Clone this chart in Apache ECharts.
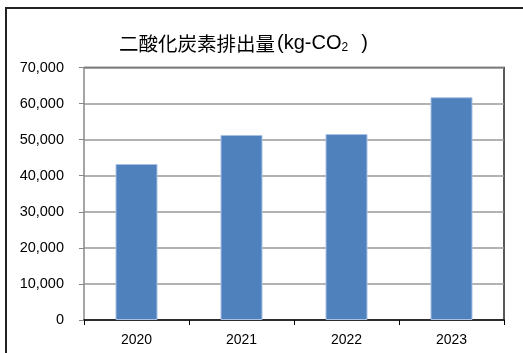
<!DOCTYPE html>
<html>
<head>
<meta charset="utf-8">
<script src="https://cdn.jsdelivr.net/npm/echarts@6/dist/echarts.min.js"></script>
<style>
  html, body { margin: 0; padding: 0; background: #fff; }
  #chart { width: 523px; height: 353px; }
</style>
</head>
<body>
<div id="chart"></div>
<script>
// 年度ごとの排出量
const years = ['2020', '2021', '2022', '2023'];
const emissions = [43250, 51300, 51550, 61750];
const yTicks = { min: 0, max: 70000, interval: 10000 };

const chart = echarts.init(document.getElementById('chart'));

chart.setOption({
  animation: false,
  title: {
    text: '二酸化炭素排出量{t|(kg-CO}{s|2}{t|  )}',
    left: 114,
    top: 28,
    textStyle: {
      fontFamily: 'Noto Sans CJK JP',
      fontSize: 19.5,
      fontWeight: 'normal',
      color: '#000',
      rich: {
        t: { fontFamily: 'Liberation Sans', fontSize: 20, color: '#000', padding: [0, 0, 0, 2] },
        s: { fontFamily: 'Liberation Sans', fontSize: 12, color: '#000', verticalAlign: 'bottom', padding: [9, 0, 0, 0] }
      }
    }
  },
  graphic: [{
    type: 'rect',
    shape: { x: 6, y: 8, width: 600, height: 400 },
    style: { fill: 'none', stroke: '#222', lineWidth: 2 },
    silent: true
  }, {
    // プロット枠（上・右）
    type: 'polyline',
    shape: { points: [[84, 67.5], [504, 67.5], [504, 320]] },
    style: { fill: 'none', stroke: '#222', lineWidth: 1.5 },
    silent: true
  }],
  grid: {
    left: 84,
    right: 19,
    top: 67.5,
    bottom: 33
  },
  xAxis: {
    type: 'category',
    data: years,
    axisLine: { lineStyle: { color: '#000', width: 1.5 } },
    axisTick: { show: true, length: 5, lineStyle: { color: '#000' } },
    axisLabel: {
      fontFamily: 'Liberation Sans',
      fontSize: 14,
      color: '#000',
      margin: 13
    }
  },
  yAxis: {
    type: 'value',
    min: yTicks.min,
    max: yTicks.max,
    interval: yTicks.interval,
    axisLine: { show: true, lineStyle: { color: '#888', width: 1.5 } },
    axisTick: { show: true, length: 5, lineStyle: { color: '#888' } },
    splitLine: { lineStyle: { color: '#999', width: 1.5 } },
    axisLabel: {
      fontFamily: 'Liberation Sans',
      fontSize: 14.5,
      color: '#000',
      margin: 20,
      formatter: function (v) { return v.toLocaleString('en-US'); }
    }
  },
  series: [{
    name: '二酸化炭素排出量',
    type: 'bar',
    data: emissions,
    barWidth: '40%',
    itemStyle: {
      color: '#4F81BD',
      borderColor: '#a9c0e2',
      borderWidth: 1
    }
  }]
});
</script>
</body>
</html>
